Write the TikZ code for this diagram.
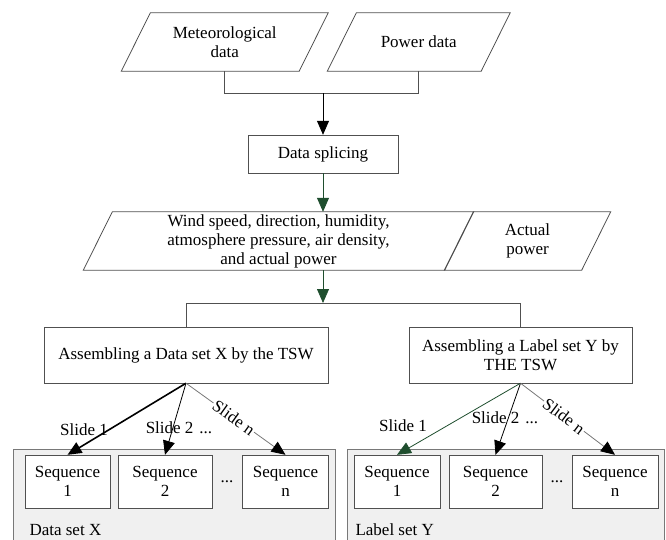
\documentclass[tikz,border=0pt]{standalone}
\usepackage{fontspec}
\setmainfont{Liberation Serif}
\usetikzlibrary{arrows.meta,positioning}
\definecolor{edgegray}{RGB}{80,80,80}
\definecolor{softgray}{RGB}{120,120,120}
\definecolor{setfill}{RGB}{240,240,240}
\definecolor{flowgreen}{RGB}{31,78,46}
% slanted outline round a named node
\newcommand\slantline[1]{\draw[edgegray,line width=0.8pt] ([xshift=14.5pt]#1.north west) -- ([xshift=14.5pt]#1.north east) -- ([xshift=-14.5pt]#1.south east) -- ([xshift=-14.5pt]#1.south west) -- cycle;}

\begin{document}
\begin{tikzpicture}[x=1pt,y=-1pt,font=\fontsize{17}{19}\selectfont,box/.style={draw=edgegray,align=center,inner sep=2pt,fill=white},datain/.style={align=center,minimum height=58pt,inner xsep=2pt,inner ysep=1pt},seqbox/.style={box,minimum height=53pt},setbox/.style={draw=softgray,fill=setfill,minimum height=100pt},link/.style={draw=edgegray,line width=0.8pt},flow/.style={-{Triangle[length=14pt,width=12pt]},line width=0.8pt,draw=black}]
\useasboundingbox (0,0) rectangle (666,539);
\clip (0,0) rectangle (666,539);
\node[datain,minimum width=177.5pt] (met) at (224.75,42) {Meteorological\\data};
\node[datain,minimum width=153.5pt] (power) at (418.75,42) {Power data};
\slantline{met}
\slantline{power}
\coordinate (join) at (323,93);
\draw[link] (met.south) |- (join);
\draw[link] (power.south) |- (join);
\node[box,minimum width=150pt,minimum height=38pt] (splice) at (323,154) {Data splicing};
\draw[flow] (join) -- (splice.north);
\node[datain,minimum width=361pt] (wind) at (278.5,241) {Wind speed, direction, humidity,\\atmosphere pressure, air density,\\and actual power};
\node[datain,minimum width=137pt] (actual) at (527.5,241) {Actual\\power};
\slantline{wind}
\slantline{actual}
\draw[flow,draw=flowgreen] (splice.south) -- (splice.south |- wind.north);
\coordinate (split) at (323,303);
\draw[flow,draw=flowgreen] (splice.south |- wind.south) -- (split);
\node[box,minimum width=284pt,minimum height=56pt] (asmX) at (186,355) {Assembling a Data set X by the TSW};
\node[box,minimum width=223pt,minimum height=56pt] (asmY) at (520.5,355) {Assembling a Label set Y by\\THE TSW};
\draw[link] (split) -| (asmX.north);
\draw[link] (split) -| (asmY.north);
% data set X
\node[setbox,minimum width=322pt] (setX) at (174,499) {};
\node[anchor=west] (setXname) at (26,530) {Data set X};
\node[seqbox,minimum width=85pt] (seqX1) at (67.5,481.5) {Sequence\\1};
\node[seqbox,minimum width=94pt] (seqX2) at (165,481.5) {Sequence\\2};
\node[seqbox,minimum width=86pt] (seqXn) at (285.5,481.5) {Sequence\\n};
\node (dotsX) at (227,482) {...};
\draw[flow,line width=1.6pt] (asmX.south) -- (seqX1.north);
\draw[flow] (asmX.south) -- (seqX2.north);
\draw[flow,draw=softgray,-{Triangle[length=14pt,width=12pt,black]}] (asmX.south) -- (seqXn.north) node[sloped,pos=0.48,fill=white,inner sep=1pt] (slXn) {Slide n};
\node (slX1) at (84,430) {Slide 1};
\node (slX2) at (179,428) {Slide 2\hspace{6pt}...};
% label set Y
\node[setbox,minimum width=317pt] (setY) at (505.5,499) {};
\node[anchor=west] (setYname) at (352,530) {Label set Y};
\node[seqbox,minimum width=86pt] (seqY1) at (397,481.5) {Sequence\\1};
\node[seqbox,minimum width=93pt] (seqY2) at (495.5,481.5) {Sequence\\2};
\node[seqbox,minimum width=86pt] (seqYn) at (615,481.5) {Sequence\\n};
\node (dotsY) at (557,482) {...};
\draw[flow,draw=flowgreen] (asmY.south) -- (seqY1.north);
\draw[flow] (asmY.south) -- (seqY2.north);
\draw[flow,draw=softgray,-{Triangle[length=14pt,width=12pt,black]}] (asmY.south) -- (seqYn.north) node[sloped,pos=0.46,fill=white,inner sep=1pt] (slYn) {Slide n};
\node (slY1) at (403,426) {Slide 1};
\node (slY2) at (505,418) {Slide 2\hspace{6pt}...};
\end{tikzpicture}
\end{document}
